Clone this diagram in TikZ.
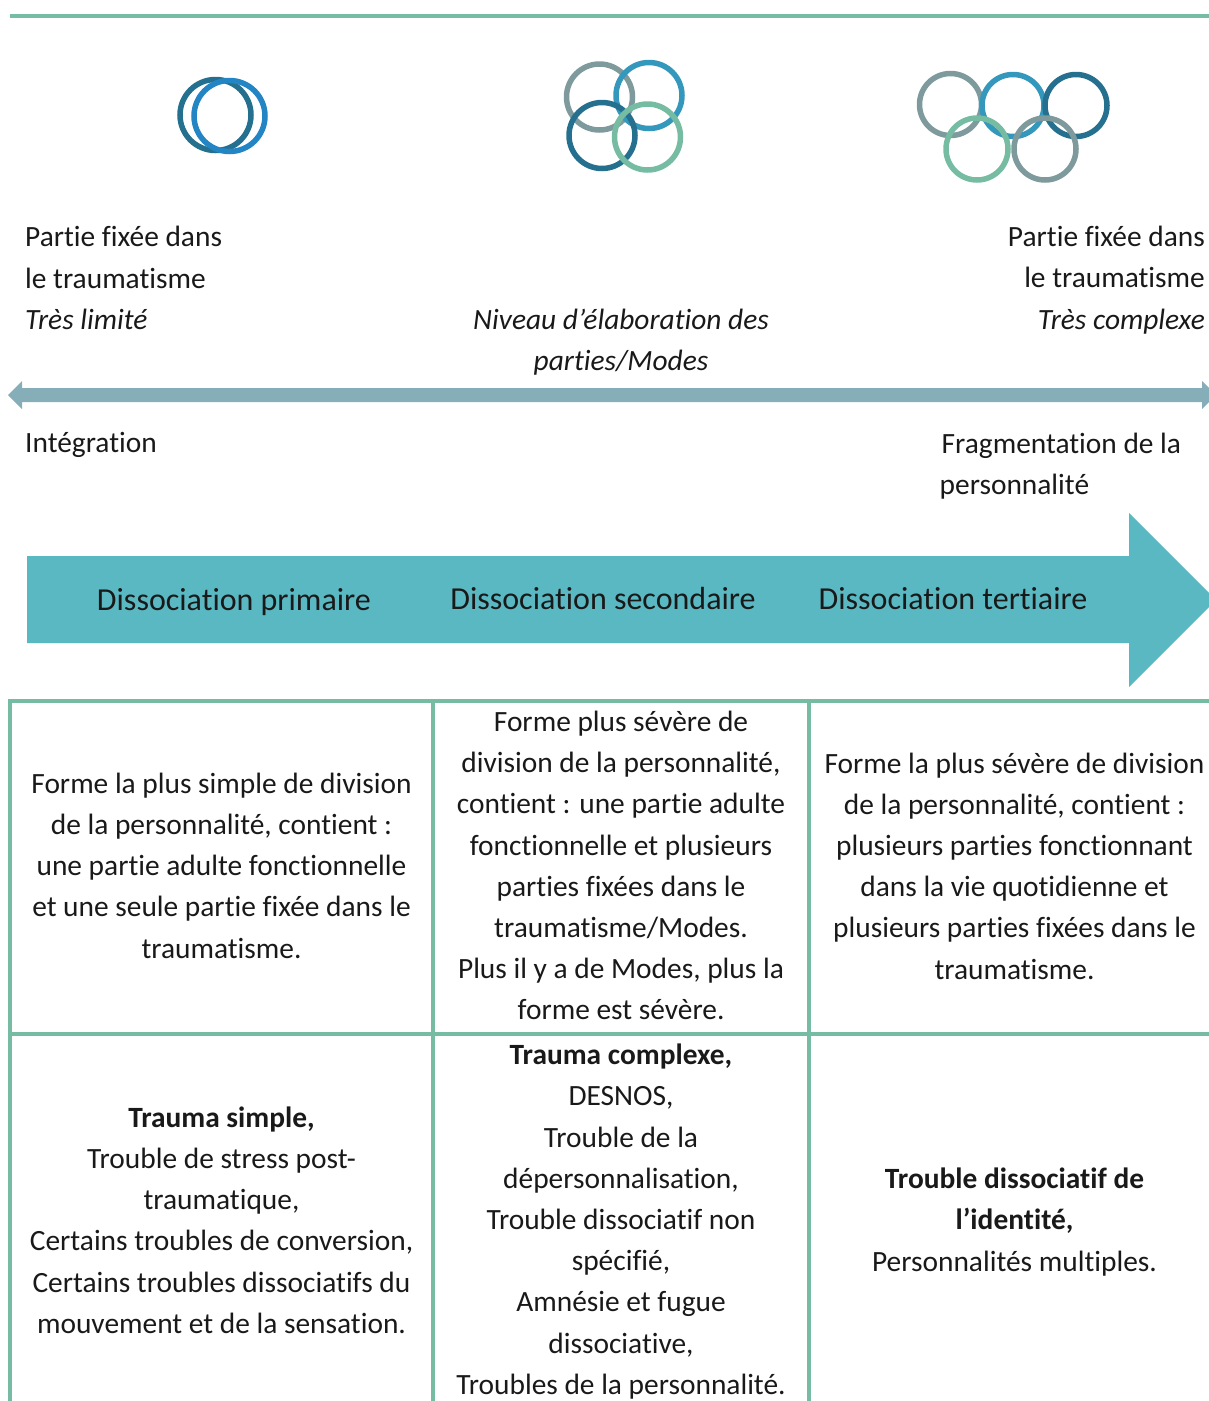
\documentclass[tikz,border=0pt]{standalone}
\usepackage{fontspec}
\setmainfont{Carlito}[Ligatures=NoCommon]
\usepackage{tikz}

\definecolor{rulegreen}{HTML}{76BCA3}
\definecolor{ringdark}{HTML}{25708F}
\definecolor{ringblue}{HTML}{2485C5}
\definecolor{ringcyan}{HTML}{3497BC}
\definecolor{ringgray}{HTML}{7F9A9C}
\definecolor{axisblue}{HTML}{85AEB9}
\definecolor{bandteal}{HTML}{5AB8C2}

\tikzset{
  rule/.style={draw=rulegreen,line width=4pt},
  ring/.style={line width=5.5pt},
  body/.style={font=\fontsize{29.4}{41.2}\selectfont,text=black!90,inner sep=0pt},
  cell/.style={body,align=center},
  lefttext/.style={body,align=left,anchor=west},
  righttext/.style={body,align=right,anchor=east},
  band/.style={font=\fontsize{32}{38}\selectfont,text=black!90,inner sep=0pt}
}

\begin{document}
\begin{tikzpicture}[x=1pt,y=-1pt]
  \useasboundingbox (0,0) rectangle (1209,1401);

  \draw[rule] (10,16) -- (1209,16);

  % rings
  \draw[ring,ringdark] (215.5,115) circle [radius=35.5pt];
  \draw[ring,ringblue] (229.5,116) circle [radius=35.5pt];

  \draw[ring,ringgray] (599.5,97) circle [radius=33pt];
  \draw[ring,ringcyan] (649,95.5) circle [radius=33pt];
  \draw[ring,ringdark] (602,135.5) circle [radius=33pt];
  \draw[ring,rulegreen] (647.5,137) circle [radius=33pt];

  \draw[ring,ringgray] (950.5,104.5) circle [radius=31pt];
  \draw[ring,ringcyan] (1013,105.5) circle [radius=31pt];
  \draw[ring,ringdark] (1076,105.5) circle [radius=31pt];
  \draw[ring,rulegreen] (977,149) circle [radius=31pt];
  \draw[ring,ringgray] (1045,149) circle [radius=31pt];

  \node[lefttext]  (limit)   at (25,278)   {Partie fixée dans\\le traumatisme\\\textit{Très limité}};
  \node[righttext] (complex) at (1205,280) {Partie fixée dans\\le traumatisme\\\textit{Très complexe}};
  \node[cell]      (level)   at (621,342)  {\textit{Niveau d’élaboration des}\\\textit{parties/Modes}};

  \fill[axisblue] (8,395) -- (22,381) -- (22,388) -- (1202,388) -- (1202,381)
                  -- (1216,395) -- (1202,409) -- (1202,402) -- (22,402) -- (22,409) -- cycle;

  \node[lefttext] (integ) at (25,445)  {Intégration};
  \node[lefttext] (fragm) at (939.5,466) {\hspace*{2pt}Fragmentation de la\\personnalité};

  \fill[bandteal] (27,556) -- (1129,556) -- (1129,513) -- (1216,600)
                  -- (1129,687) -- (1129,643) -- (27,643) -- cycle;
  \node[band] (prim) at (234,602.5) {Dissociation primaire};
  \node[band] (seco) at (603,598) {Dissociation secondaire};
  \node[band] (tert) at (953,598.5) {Dissociation tertiaire};

  % table
  \foreach \x in {10,433,809.3}
    \draw[rule] (\x,699) -- (\x,1401);
  \foreach \y in {701,1034}
    \draw[rule] (10,\y) -- (1209,\y);

  \node[cell] (a1) at (221.5,865.5) {Forme la plus simple de division\\de la personnalité, contient :\\une partie adulte fonctionnelle\\et une seule partie fixée dans le\\traumatisme.};
  \node[cell] (b1) at (621,865.5) {Forme plus sévère de\\division de la personnalité,\\contient : une partie adulte\\fonctionnelle et plusieurs\\parties fixées dans le\\traumatisme/Modes.\\Plus il y a de Modes, plus la\\forme est sévère.};
  \node[cell] (c1) at (1014.5,866) {Forme la plus sévère de division\\de la personnalité, contient :\\plusieurs parties fonctionnant\\dans la vie quotidienne et\\plusieurs parties fixées dans le\\traumatisme.};

  \node[cell] (a2) at (221.5,1220) {\textbf{Trauma simple,}\\Trouble de stress post-\\traumatique,\\Certains troubles de conversion,\\Certains troubles dissociatifs du\\mouvement et de la sensation.};
  \node[cell] (b2) at (621,1221.5) {\textbf{Trauma complexe,}\\DESNOS,\\Trouble de la\\dépersonnalisation,\\Trouble dissociatif non\\spécifié,\\Amnésie et fugue\\dissociative,\\Troubles de la personnalité.};
  \node[cell] (c2) at (1014.5,1222) {\textbf{Trouble dissociatif de}\\\textbf{l’identité,}\\Personnalités multiples.};
\end{tikzpicture}
\end{document}
